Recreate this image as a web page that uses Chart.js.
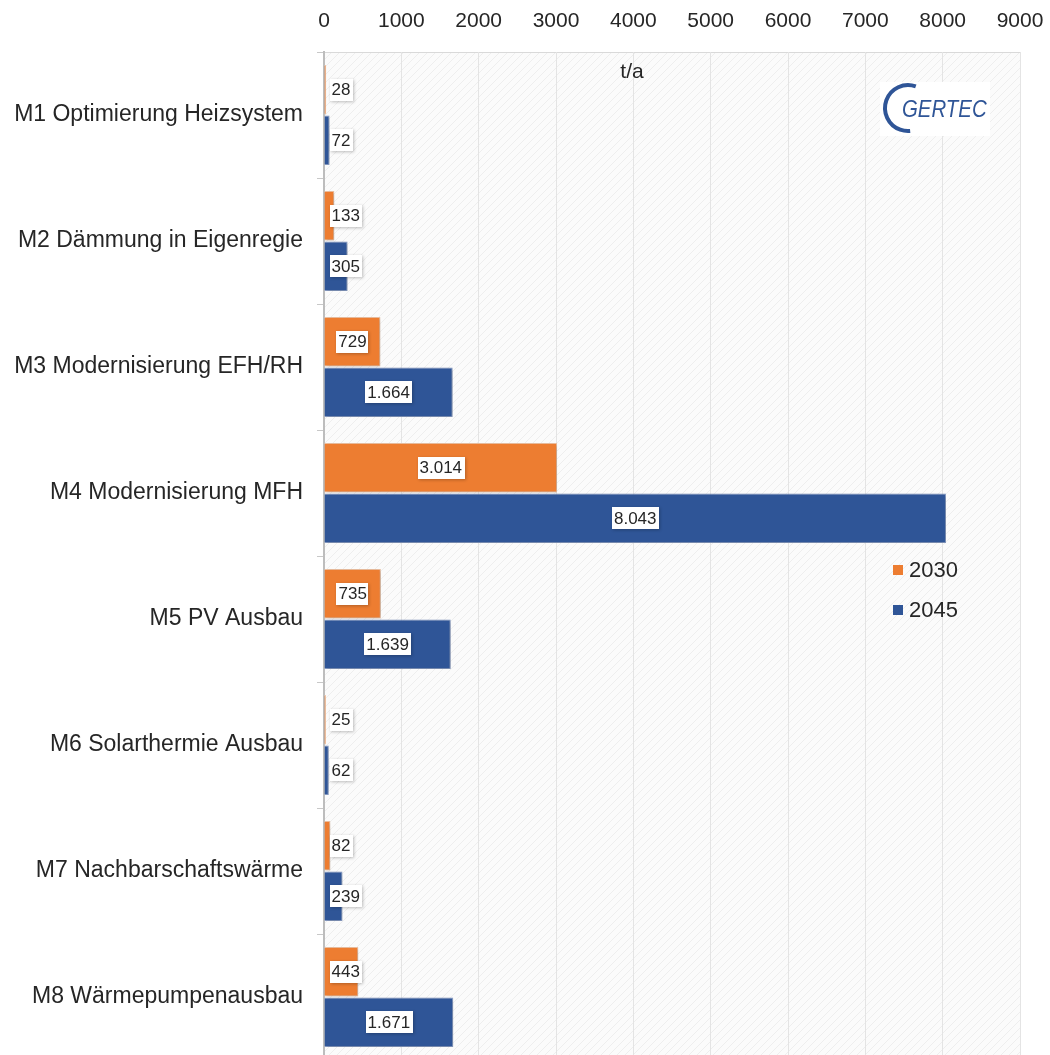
<!DOCTYPE html>
<html>
<head>
<meta charset="utf-8">
<script src="https://cdn.jsdelivr.net/npm/chart.js@4.4.1/dist/chart.umd.min.js"></script>
<style>
  html, body { margin: 0; padding: 0; background: #fff; overflow: hidden; }
  #wrap { position: relative; width: 1050px; height: 1055px; overflow: hidden; }
</style>
</head>
<body>
<div id="wrap"><canvas id="chart" width="1050" height="1060"></canvas></div>
<script>
/* CO2-Einsparung je Maßnahme (t/a) */

const categories = [
  'M1 Optimierung Heizsystem',
  'M2 Dämmung in Eigenregie',
  'M3 Modernisierung EFH/RH',
  'M4 Modernisierung MFH',
  'M5 PV Ausbau',
  'M6 Solarthermie Ausbau',
  'M7 Nachbarschaftswärme',
  'M8 Wärmepumpenausbau',
];
const seriesNames = ['2030', '2045'];
const values2030 = [28, 133, 729, 3014, 735, 25, 82, 443];
const values2045 = [72, 305, 1664, 8043, 1639, 62, 239, 1671];
const xMax = 9000;
const xStep = 1000;

const FONT = '"Liberation Sans", Arial, Helvetica, sans-serif';
const ORANGE = '#ED7D31';
const BLUE = '#2F5597';

// deutsches Tausendertrennzeichen
const fmtDe = (v) => String(v).replace(/\B(?=(\d{3})+(?!\d))/g, '.');

function hatchPattern(ctx) {
  const p = document.createElement('canvas');
  p.width = 8; p.height = 8;
  const c = p.getContext('2d');
  c.fillStyle = '#fbfbfb';
  c.fillRect(0, 0, 8, 8);
  c.strokeStyle = '#eeeeee';
  c.lineWidth = 1;
  c.beginPath();
  c.moveTo(0, 8); c.lineTo(8, 0);
  c.moveTo(-4, 4); c.lineTo(4, -4);
  c.moveTo(4, 12); c.lineTo(12, 4);
  c.stroke();
  return ctx.createPattern(p, 'repeat');
}

const plotBackground = {
  id: 'plotBackground',
  beforeDraw(chart) {
    const { ctx, chartArea: a } = chart;
    ctx.save();
    ctx.fillStyle = hatchPattern(ctx);
    ctx.fillRect(a.left, a.top, a.right - a.left, a.bottom - a.top);
    ctx.strokeStyle = '#d9d9d9';
    ctx.lineWidth = 1;
    ctx.strokeRect(a.left + 0.5, a.top + 0.5, a.right - a.left, a.bottom - a.top);
    ctx.restore();
  },
};

const barShadow = {
  id: 'barShadow',
  beforeDatasetsDraw(chart) {
    const ctx = chart.ctx;
    ctx.save();
    ctx.shadowColor = 'rgba(0,0,0,0.28)';
    ctx.shadowBlur = 4;
    ctx.shadowOffsetX = 1;
    ctx.shadowOffsetY = 1;
  },
  afterDatasetsDraw(chart) {
    chart.ctx.restore();
  },
};

const valueLabels = {
  id: 'valueLabels',
  afterDatasetsDraw(chart) {
    const ctx = chart.ctx;
    ctx.save();
    ctx.font = '17px ' + FONT;
    ctx.textAlign = 'center';
    ctx.textBaseline = 'middle';
    chart.data.datasets.forEach((ds, i) => {
      chart.getDatasetMeta(i).data.forEach((bar, j) => {
        const txt = fmtDe(ds.data[j]);
        const w = ctx.measureText(txt).width + 4;
        const h = 22;
        const cx = Math.max((bar.x + bar.base) / 2, bar.base + 5 + w / 2);
        const cy = bar.y;
        ctx.shadowColor = 'rgba(0,0,0,0.25)';
        ctx.shadowBlur = 3;
        ctx.shadowOffsetX = 1;
        ctx.shadowOffsetY = 1;
        ctx.fillStyle = '#ffffff';
        ctx.fillRect(Math.round(cx - w / 2), Math.round(cy - h / 2), Math.round(w), h);
        ctx.shadowColor = 'transparent';
        ctx.fillStyle = '#262626';
        ctx.fillText(txt, cx, cy + 1);
      });
    });
    ctx.restore();
  },
};

const overlay = {
  id: 'overlay',
  afterDraw(chart) {
    const { ctx } = chart;
    ctx.save();
    // Achsentitel
    ctx.fillStyle = '#262626';
    ctx.font = '21px ' + FONT;
    ctx.textAlign = 'center';
    ctx.textBaseline = 'middle';
    ctx.fillText('t/a', 632, 72);

    // Legende
    ctx.textAlign = 'left';
    ctx.font = '22px ' + FONT;
    chart.data.datasets.forEach((ds, i) => {
      const y = 570 + i * 40;
      ctx.fillStyle = ds.backgroundColor;
      ctx.fillRect(893, y - 5, 10, 10);
      ctx.fillStyle = '#262626';
      ctx.fillText(ds.label, 909, y + 1);
    });

    // Logo
    ctx.fillStyle = '#ffffff';
    ctx.fillRect(880, 82, 110, 54);
    ctx.strokeStyle = '#2F5597';
    ctx.lineWidth = 4;
    ctx.beginPath();
    ctx.arc(908, 108, 23, -0.39 * Math.PI, 0.47 * Math.PI, true);
    ctx.stroke();
    ctx.fillStyle = '#2F5597';
    ctx.font = 'italic 24px ' + FONT;
    ctx.translate(902, 110);
    ctx.scale(0.85, 1);
    ctx.fillText('GERTEC', 0, 0);
    ctx.restore();
  },
};

new Chart(document.getElementById('chart'), {
  type: 'bar',
  data: {
    labels: categories,
    datasets: [
      {
        label: seriesNames[0],
        data: values2030,
        backgroundColor: ORANGE,
        borderColor: '#f6c7a6',
        borderWidth: 1,
        categoryPercentage: 0.8,
        barPercentage: 0.98,
      },
      {
        label: seriesNames[1],
        data: values2045,
        backgroundColor: BLUE,
        borderColor: '#8ea4cf',
        borderWidth: 1,
        categoryPercentage: 0.8,
        barPercentage: 0.98,
      },
    ],
  },
  options: {
    indexAxis: 'y',
    responsive: false,
    animation: false,
    layout: { padding: { left: 0, right: 30, top: 0, bottom: 0 } },
    plugins: { legend: { display: false }, tooltip: { enabled: false } },
    scales: {
      x: {
        position: 'top',
        min: 0,
        max: xMax,
        ticks: {
          stepSize: xStep,
          color: '#262626',
          font: { size: 21, family: FONT },
          padding: 18,
          callback: (v) => String(v),
        },
        grid: { color: '#e4e4e4', drawTicks: false },
        border: { display: false },
        afterFit: (s) => { s.height = 52; s.paddingLeft = 0; s.paddingRight = 0; },
      },
      y: {
        ticks: { color: '#262626', font: { size: 23, family: FONT }, padding: 14 },
        grid: { drawOnChartArea: false, tickLength: 7, color: '#c8c8c8' },
        border: { color: '#bdbdbd', width: 2 },
        afterFit: (s) => { s.width = 324; s.paddingTop = 0; s.paddingBottom = 0; },
      },
    },
  },
  plugins: [plotBackground, barShadow, valueLabels, overlay],
});
</script>
</body>
</html>
